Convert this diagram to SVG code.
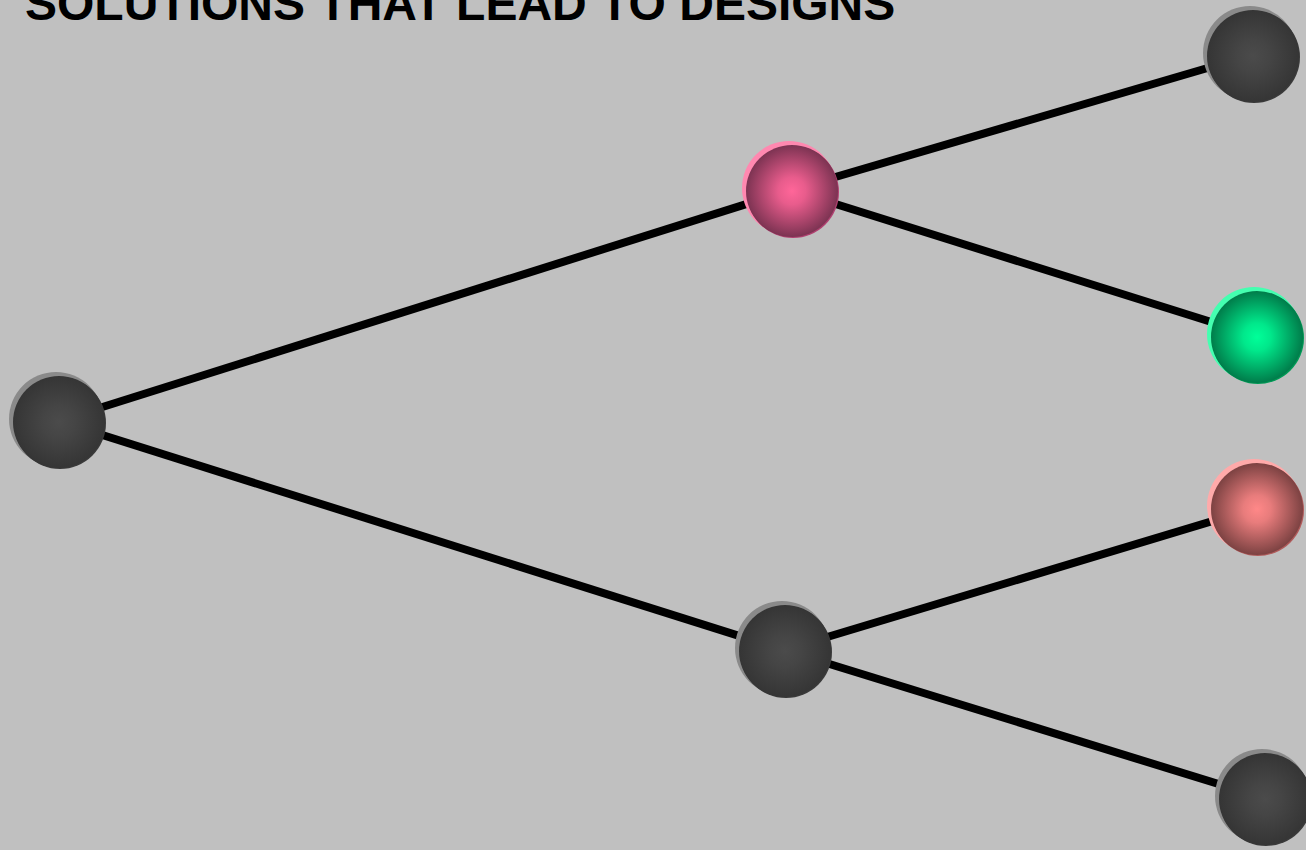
<svg xmlns="http://www.w3.org/2000/svg" width="1306" height="850" viewBox="0 0 1306 850">
<defs>
<radialGradient id="gDark" cx="50%" cy="50%" r="50%"><stop offset="0" stop-color="#4b4b4b"/><stop offset="0.35" stop-color="#454545"/><stop offset="1" stop-color="#353535"/></radialGradient>
<radialGradient id="gPink" cx="50%" cy="50%" r="50%"><stop offset="0" stop-color="#ff6699"/><stop offset="0.3" stop-color="#e85c8c"/><stop offset="1" stop-color="#7c3352"/></radialGradient>
<radialGradient id="gGreen" cx="50%" cy="50%" r="50%"><stop offset="0" stop-color="#00ff99"/><stop offset="0.3" stop-color="#00e88b"/><stop offset="1" stop-color="#007c4a"/></radialGradient>
<radialGradient id="gSalmon" cx="50%" cy="50%" r="50%"><stop offset="0" stop-color="#ff8888"/><stop offset="0.3" stop-color="#e87c7c"/><stop offset="1" stop-color="#7c4242"/></radialGradient>
</defs>
<style>
.edge{stroke:#000;stroke-width:8;fill:none}
.title{font-family:"Liberation Sans",Arial,sans-serif;font-weight:bold;font-size:48px;fill:#000}
.dark .hi{fill:#8a8a8a}.dark .lo{fill:#3a3a3a}.dark .body{fill:url(#gDark)}
.pink .hi{fill:#ff88b0}.pink .lo{fill:#b04070}.pink .body{fill:url(#gPink)}
.green .hi{fill:#44ffb0}.green .lo{fill:#009955}.green .body{fill:url(#gGreen)}
.salmon .hi{fill:#ffaaaa}.salmon .lo{fill:#b05a5a}.salmon .body{fill:url(#gSalmon)}
</style>
<rect width="1306" height="850" fill="#c0c0c0"/>
<text class="title" x="25" y="19.5">SOLUTIONS THAT LEAD TO DESIGNS</text>
<g id="connectors">
<line class="edge" x1="58" y1="421" x2="791" y2="190"/>
<line class="edge" x1="58" y1="421" x2="784" y2="650"/>
<line class="edge" x1="791" y1="190" x2="1252" y2="55"/>
<line class="edge" x1="791" y1="190" x2="1256" y2="336"/>
<line class="edge" x1="784" y1="650" x2="1256" y2="508"/>
<line class="edge" x1="784" y1="650" x2="1264" y2="798"/>
</g>
<g id="n-root" class="dark"><circle class="hi" cx="56" cy="419" r="47"/><circle class="lo" cx="60" cy="423" r="46"/><circle class="body" cx="59" cy="422" r="46"/></g>
<g id="n-pink" class="pink"><circle class="hi" cx="789" cy="188" r="47"/><circle class="lo" cx="793" cy="192" r="46"/><circle class="body" cx="792" cy="191" r="46"/></g>
<g id="n-bottom-mid" class="dark"><circle class="hi" cx="782" cy="648" r="47"/><circle class="lo" cx="786" cy="652" r="46"/><circle class="body" cx="785" cy="651" r="46"/></g>
<g id="n-top-right" class="dark"><circle class="hi" cx="1250" cy="53" r="47"/><circle class="lo" cx="1254" cy="57" r="46"/><circle class="body" cx="1253" cy="56" r="46"/></g>
<g id="n-green" class="green"><circle class="hi" cx="1254" cy="334" r="47"/><circle class="lo" cx="1258" cy="338" r="46"/><circle class="body" cx="1257" cy="337" r="46"/></g>
<g id="n-salmon" class="salmon"><circle class="hi" cx="1254" cy="506" r="47"/><circle class="lo" cx="1258" cy="510" r="46"/><circle class="body" cx="1257" cy="509" r="46"/></g>
<g id="n-bottom-right" class="dark"><circle class="hi" cx="1262" cy="796" r="47"/><circle class="lo" cx="1266" cy="800" r="46"/><circle class="body" cx="1265" cy="799" r="46"/></g>
</svg>
